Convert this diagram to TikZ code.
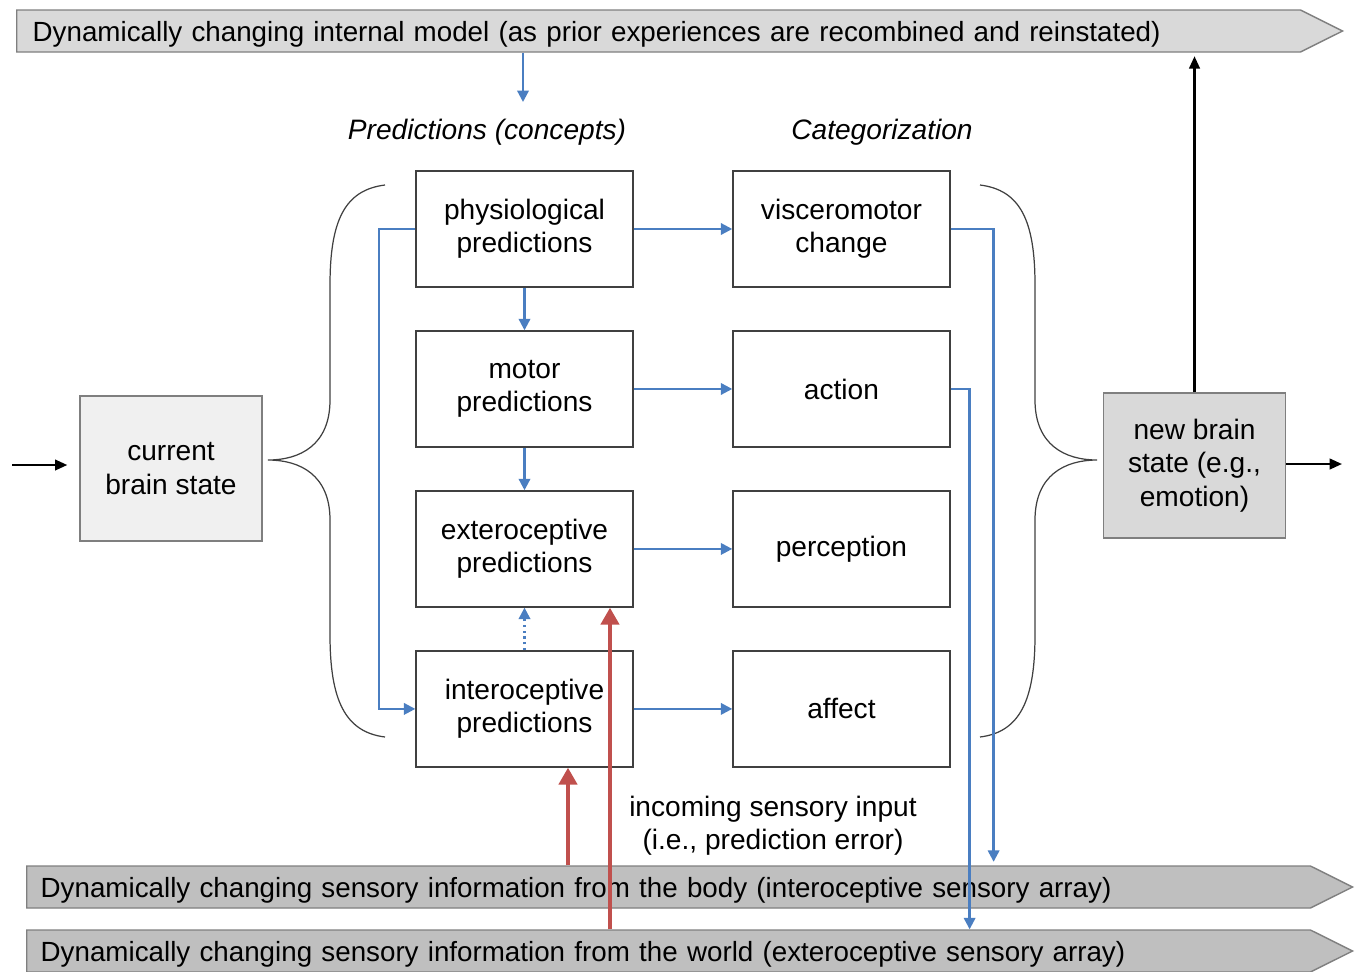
\documentclass[tikz,border=0pt]{standalone}
\usepackage{fontspec}
\setmainfont{Liberation Sans}
\usetikzlibrary{positioning, calc, arrows.meta, shapes.symbols}
\definecolor{flowblue}{RGB}{74,126,193}
\definecolor{errred}{RGB}{192,80,77}
\definecolor{boxline}{RGB}{64,64,64}
\definecolor{bannerline}{RGB}{127,127,127}
\definecolor{lightfill}{RGB}{217,217,217}
\definecolor{darkfill}{RGB}{191,191,191}
\definecolor{statefill}{RGB}{240,240,240}
\tikzstyle{predbox} = [rectangle, minimum width=4.34cm, minimum height=2.32cm, text centered, align=center, draw=boxline, line width=0.8pt]
\tikzstyle{statebox} = [rectangle, minimum width=3.64cm, minimum height=2.9cm, text centered, align=center, draw=bannerline, line width=0.8pt]
\tikzstyle{banner} = [signal, signal to=east, signal pointer angle=53, minimum height=0.84cm, inner ysep=0.1cm, text depth=0pt, align=left, draw=bannerline, line width=0.8pt, font=\fontsize{15.8}{18}\selectfont]
\tikzstyle{bluearrow} = [line width=1.3pt, draw=flowblue, -{Triangle[length=6.5pt,width=6.5pt]}]
\tikzstyle{arrow} = [line width=1.3pt, ->, >={Triangle[length=7pt,width=6pt]}]
\tikzstyle{redarrow} = [line width=2.8pt, draw=errred, -{Triangle[length=0.34cm,width=0.36cm]}]
\tikzstyle{bracket} = [line width=0.7pt, draw=boxline]

\begin{document}
\begin{tikzpicture}[x=0.02cm,y=-0.02cm,node distance=3.2cm,on grid,font=\fontsize{16}{19}\selectfont]
    \useasboundingbox (0,0) rectangle (1358,971);
    % sensory and model streams
    \node[banner,fill=lightfill,text width=25.04cm,inner xsep=0.32cm,anchor=west] (internal) at (16,31)
        {Dynamically changing internal model (as prior experiences are recombined and reinstated)};
    \node[banner,fill=darkfill,text width=25.12cm,inner xsep=0.28cm,anchor=west] (body) at (26,887)
        {Dynamically changing sensory information from the body (interoceptive sensory array)};
    \node[banner,fill=darkfill,text width=25.12cm,inner xsep=0.28cm,anchor=west] (world) at (26,951)
        {Dynamically changing sensory information from the world (exteroceptive sensory array)};

    \node at (487,132) {\itshape Predictions (concepts)};
    \node at (882,132) {\itshape Categorization};

    \node[predbox](physio) at (524.5,229) {physiological\\predictions};
    \node[predbox](motor)[below=of physio] {motor\\predictions};
    \node[predbox](extero)[below=of motor] {exteroceptive\\predictions};
    \node[predbox](intero)[below=of extero] {interoceptive\\predictions};
    \node[predbox](visc)[right=6.34cm of physio] {visceromotor\\change};
    \node[predbox](action)[right=6.34cm of motor] {action};
    \node[predbox](percept)[right=6.34cm of extero] {perception};
    \node[predbox](affect)[right=6.34cm of intero] {affect};

    \node[statebox,fill=statefill](current) at (171,468.5) {current\\brain state};
    \node[statebox,fill=lightfill](newstate) at (1194.5,465.5) {new brain\\state (e.g.,\\emotion)};

    \node[align=center](incoming) at (773,826) {incoming sensory input\\(i.e., prediction error)};

    % braces
    \draw[bracket] (385,185) .. controls (345,190) and (330,220) .. (330,285) -- (330,400)
        .. controls (330,445) and (300,460) .. (268,460) .. controls (300,460) and (330,475) .. (330,520)
        -- (330,635) .. controls (330,700) and (345,732) .. (385,737);
    \draw[bracket] (980,185) .. controls (1020,190) and (1035,220) .. (1035,285) -- (1035,400)
        .. controls (1035,445) and (1065,460) .. (1097,460) .. controls (1065,460) and (1035,475) .. (1035,520)
        -- (1035,635) .. controls (1035,700) and (1020,732) .. (980,737);

    \coordinate (predtop) at (523,102);
    \coordinate (instart) at (12,465);
    \coordinate (outend) at (1342,464);
    \coordinate (vdrop) at ([xshift=0.86cm]visc.east);
    \coordinate (adrop) at ([xshift=0.38cm]action.east);
    \coordinate (redin) at ([xshift=0.87cm]intero.south);
    \coordinate (redex) at ([xshift=1.71cm]extero.south);

    \draw[bluearrow] (internal.south -| predtop) -- (predtop);
    \draw[bluearrow] (physio.west) -- ++(-36,0) |- (intero.west);
    \draw[bluearrow] (physio.south) -- (motor.north);
    \draw[bluearrow] (motor.south) -- (extero.north);
    \draw[bluearrow,dotted] (intero.north) -- (extero.south);
    \draw[bluearrow] (physio.east) -- (visc.west);
    \draw[bluearrow] (motor.east) -- (action.west);
    \draw[bluearrow] (extero.east) -- (percept.west);
    \draw[bluearrow] (intero.east) -- (affect.west);
    \draw[bluearrow,shorten >=2pt] (visc.east) -- (vdrop) -- (vdrop |- body.north);
    \draw[bluearrow] (action.east) -- (adrop) -- (adrop |- world.north);

    \draw[redarrow] (redin |- body.north) -- (redin);
    \draw[redarrow] (redex |- world.north) -- (redex);

    \draw[arrow,shorten >=0.24cm] (instart) -- (instart -| current.west);
    \draw[arrow] (newstate.east |- outend) -- (outend);
    \draw[arrow,shorten >=2pt] (newstate.north) -- (newstate.north |- internal.south);
\end{tikzpicture}
\end{document}
